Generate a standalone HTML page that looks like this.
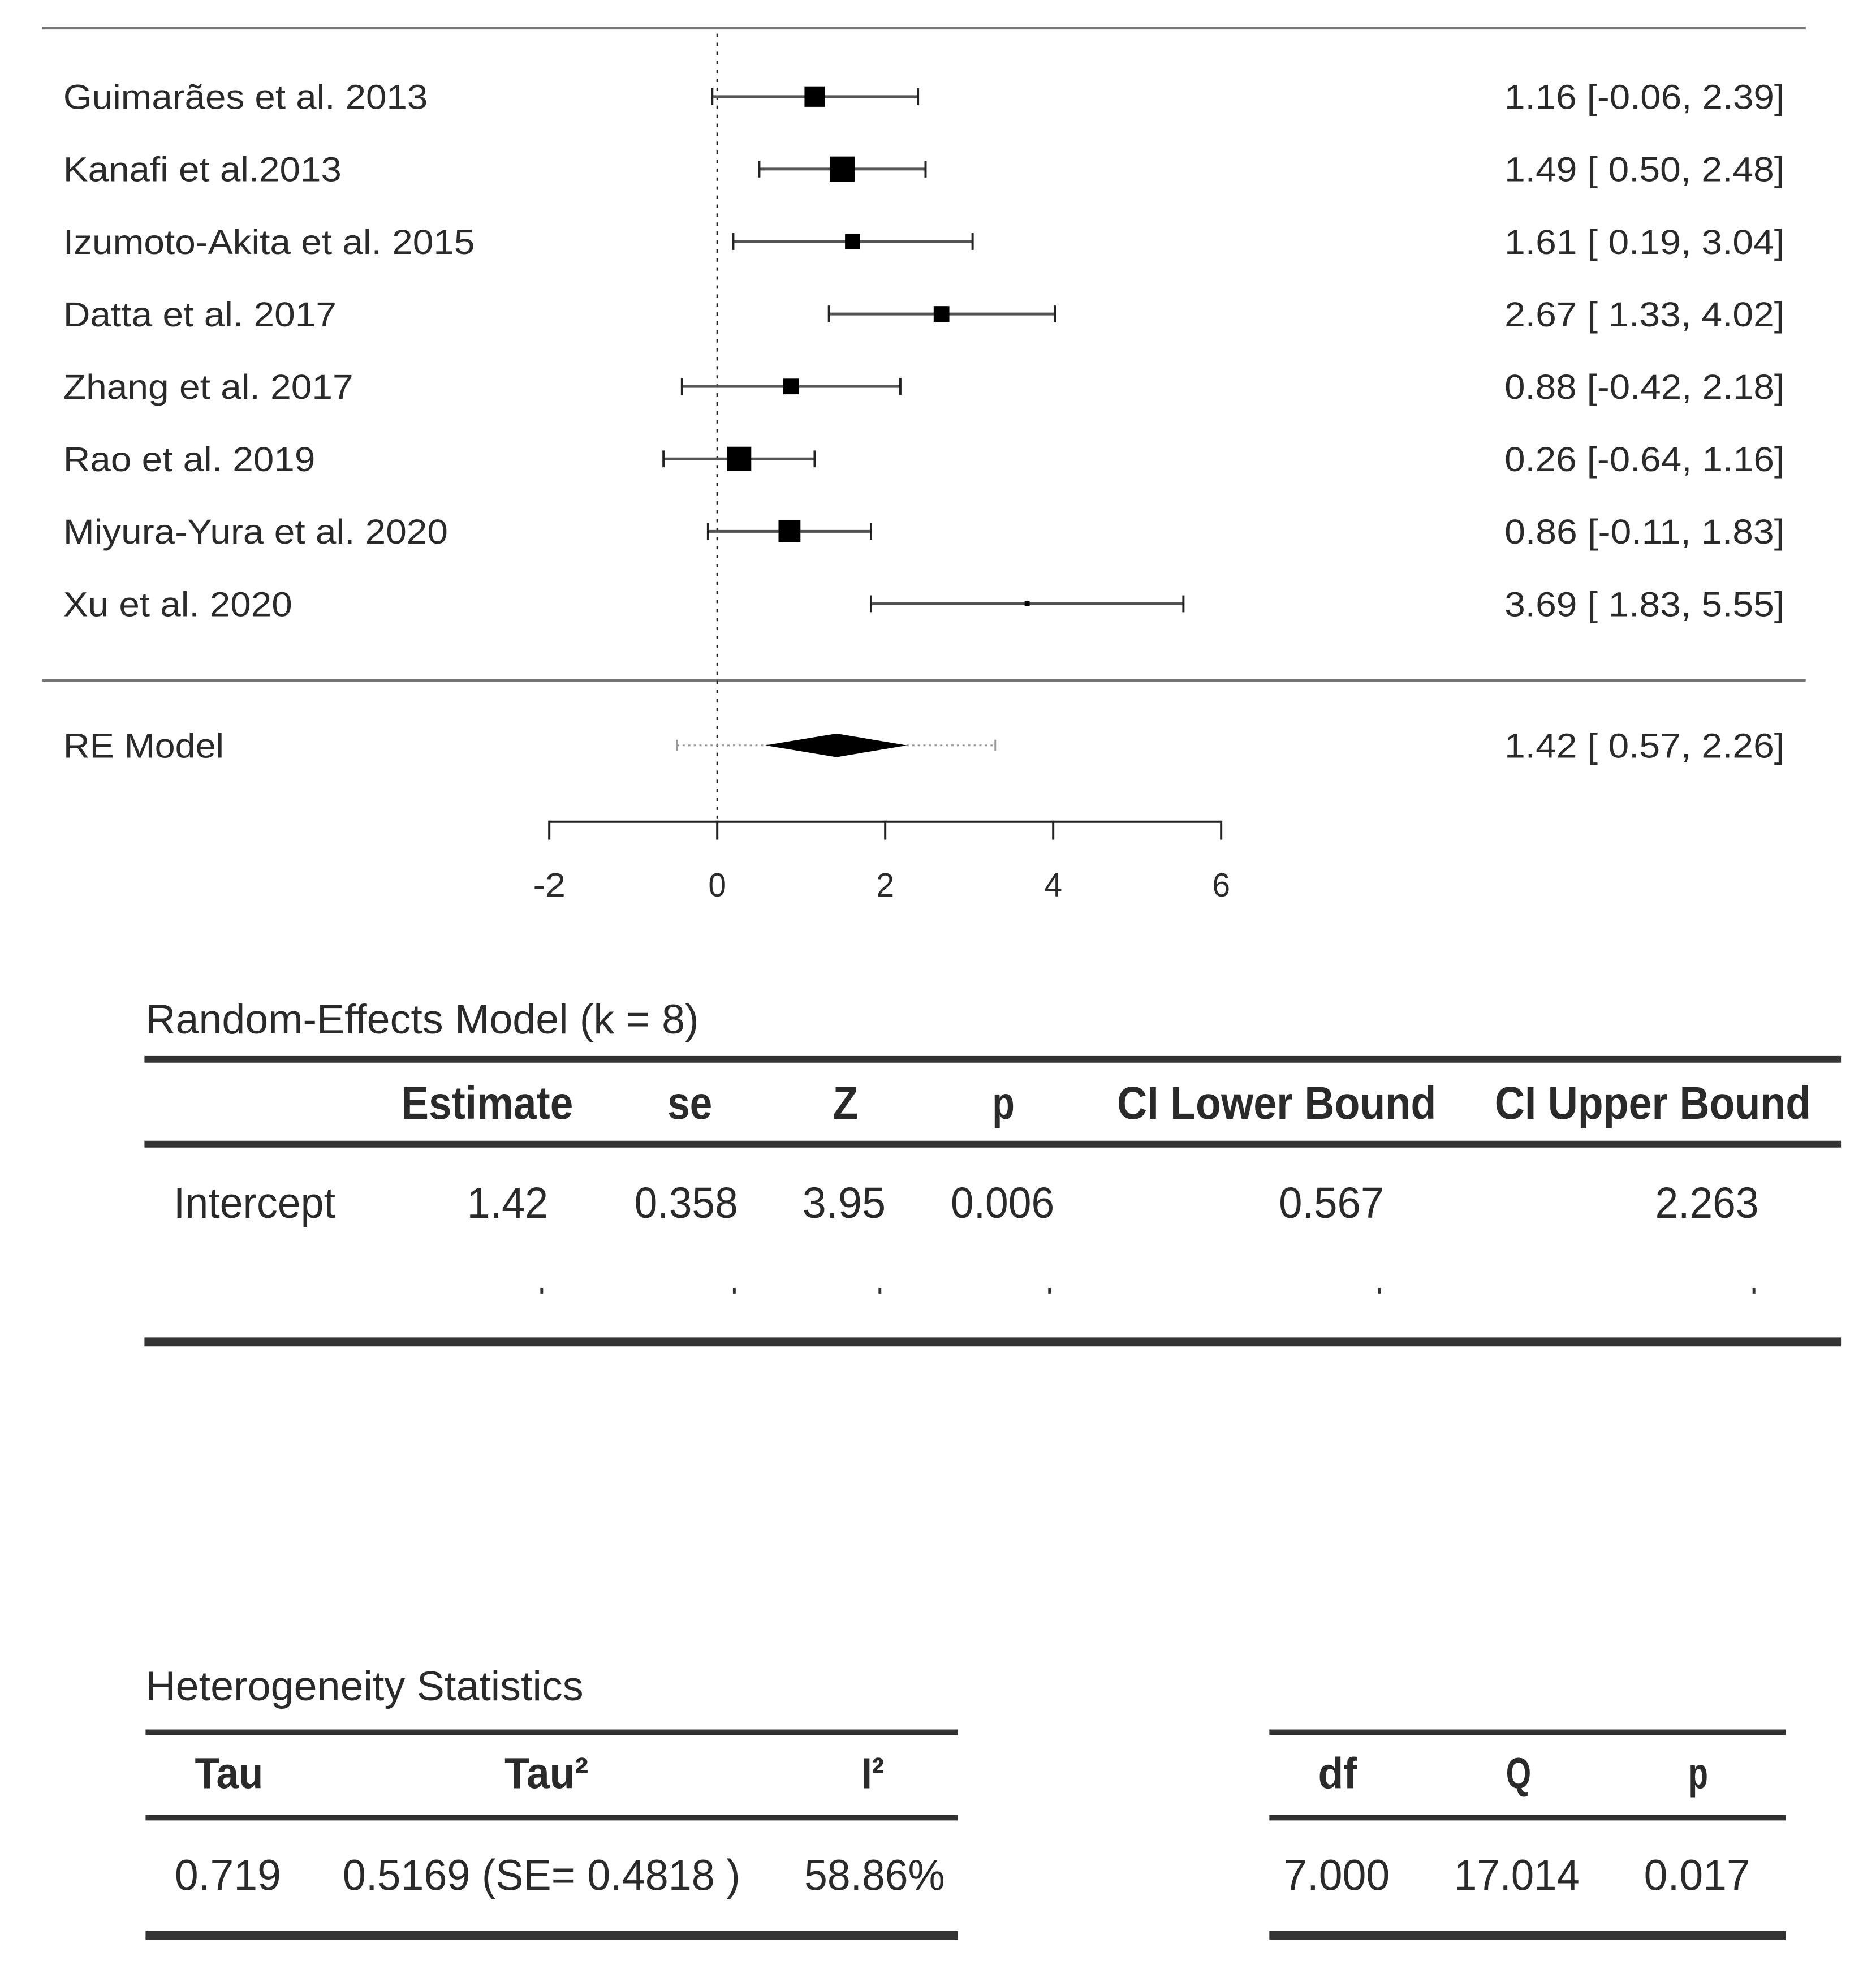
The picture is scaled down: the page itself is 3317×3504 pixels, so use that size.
<!DOCTYPE html>
<html><head><meta charset="utf-8">
<style>
html,body{margin:0;padding:0;background:#fff;}
svg{display:block;}
text{font-family:"Liberation Sans",Arial,sans-serif;fill:#2a2a2a;}
</style></head>
<body>
<svg id="chart" width="3317" height="3504" viewBox="0 0 3317 3504" xmlns="http://www.w3.org/2000/svg">
<rect x="0" y="0" width="3317" height="3504" fill="#fff"/>
<g transform="scale(0.99,0.993)">
<g id="forest"></g>
<g id="tables"></g>
</g>
</svg>
<script>
const studies = ["Guimarães et al. 2013","Kanafi et al.2013","Izumoto-Akita et al. 2015","Datta et al. 2017","Zhang et al. 2017","Rao et al. 2019","Miyura-Yura et al. 2020","Xu et al. 2020"];
const estimates = [1.16,1.49,1.61,2.67,0.88,0.26,0.86,3.69];
const lowers = [-0.06,0.50,0.19,1.33,-0.42,-0.64,-0.11,1.83];
const uppers = [2.39,2.48,3.04,4.02,2.18,1.16,1.83,5.55];
const weights = [13,16,9.5,10,10,15.5,14,3.2];
const ciLabels = ["1.16 [-0.06, 2.39]","1.49 [ 0.50, 2.48]","1.61 [ 0.19, 3.04]","2.67 [ 1.33, 4.02]","0.88 [-0.42, 2.18]","0.26 [-0.64, 1.16]","0.86 [-0.11, 1.83]","3.69 [ 1.83, 5.55]"];
const reEstimate = 1.42, reLower = 0.57, reUpper = 2.26, piLower = -0.48, piUpper = 3.31;
const reLabel = "1.42 [ 0.57, 2.26]";
const xTicks = [-2,0,2,4,6];
const xTickLabels = ["-2","0","2","4","6"];

const NS="http://www.w3.org/2000/svg";
function mk(tag, attrs, parent){const e=document.createElementNS(NS,tag);for(const k in attrs)e.setAttribute(k,attrs[k]);parent.appendChild(e);return e;}
function txt(parent,s,x,y,size,anchor,len,weight){
  const t=mk('text',{x:x,y:y,'font-size':size,'text-anchor':anchor||'start'},parent);
  if(len){t.setAttribute('textLength',len);t.setAttribute('lengthAdjust','spacingAndGlyphs');}
  if(weight)t.setAttribute('font-weight',weight);
  t.textContent=s;return t;}
const xs = v => 1281 + 150*v;
const rowY = i => 172 + 129*i;

const F=document.getElementById('forest');
let l=mk('line',{x1:75,x2:3225,y1:50,y2:50,stroke:'#777','stroke-width':5},F);

l=mk('line',{x1:75,x2:3225,y1:1211,y2:1211,stroke:'#777','stroke-width':5},F);

l=mk('line',{x1:xs(0),x2:xs(0),y1:60,y2:1494,stroke:'#222','stroke-width':3,'stroke-dasharray':'6 10'},F);


const labelW=[651,497,735,488,518,450,687,409];
for(let i=0;i<studies.length;i++){
  const y=rowY(i);
  const g=mk('g',{},F);
  
  
  const lab=txt(g,studies[i],113,y+22,62,'start',labelW[i]);
  
  
  const ci=mk('line',{x1:xs(lowers[i]),x2:xs(uppers[i]),y1:y,y2:y,stroke:'#555','stroke-width':5},g);
  
  
  [lowers[i],uppers[i]].forEach(v=>{mk('line',{x1:xs(v),x2:xs(v),y1:y-15,y2:y+15,stroke:'#222','stroke-width':4},g);});
  const s=2.8*weights[i];
  const b=mk('rect',{x:xs(estimates[i])-s/2,y:y-s/2,width:s,height:s,fill:'#000'},g);
  
  
  const r=txt(g,ciLabels[i],3187,y+22,62,'end',500);
  
  
}
const yRE=1327;
const gr=mk('g',{},F);


txt(gr,'RE Model',113,yRE+22,62,'start',287);
mk('line',{x1:xs(piLower),x2:xs(piUpper),y1:yRE,y2:yRE,stroke:'#999','stroke-width':3,'stroke-dasharray':'4 6'},gr);
[piLower,piUpper].forEach(v=>mk('line',{x1:xs(v),x2:xs(v),y1:yRE-10,y2:yRE+10,stroke:'#999','stroke-width':3},gr));
const dm=mk('polygon',{points:`${xs(reLower)},${yRE} ${xs(reEstimate)},${yRE-21} ${xs(reUpper)},${yRE} ${xs(reEstimate)},${yRE+21}`,fill:'#000'},gr);


txt(gr,reLabel,3187,yRE+22,62,'end',500);
const ax=mk('g',{},F);


mk('line',{x1:xs(xTicks[0]),x2:xs(xTicks[xTicks.length-1]),y1:1463,y2:1463,stroke:'#222','stroke-width':4},ax);
xTicks.forEach((v,i)=>{
  mk('line',{x1:xs(v),x2:xs(v),y1:1461,y2:1495,stroke:'#222','stroke-width':4},ax);
  const t=txt(ax,xTickLabels[i],xs(v),1596,60,'middle',xTickLabels[i].length>1?58:32);
  
  
});

const T=document.getElementById('tables');
function rule(y,x1,x2,w,name){const r=mk('line',{x1:x1,x2:x2,y1:y,y2:y,stroke:'#333','stroke-width':w},T);}
let t=txt(T,'Random-Effects Model (k = 8)',260,1840,74,'start',988);

rule(1886,258,3288,12,'re-table-top-rule');
rule(2037,258,3288,12,'re-table-header-rule');
rule(2389,258,3288,16,'re-table-bottom-rule');
const reHeads=[["Estimate",870,307],["se",1232,80],["Z",1510,45],["p",1792,40],["CI Lower Bound",2280,570],["CI Upper Bound",2952,565]];
reHeads.forEach(h=>{const e=txt(T,h[0],h[1],1992,82,'middle',h[2],'bold');});
txt(T,'Intercept',310,2168,78,'start',289);
const reVals=[["1.42",979,145],["0.358",1318,185],["3.95",1582,149],["0.006",1883,185],["0.567",2472,188],["2.263",3141,185]];
reVals.forEach(v=>{const e=txt(T,v[0],v[1],2168,78,'end',v[2]);});
[967,1311,1571,1874,2463,3132].forEach(x=>mk('rect',{x:x-2,y:2293,width:5,height:10,fill:'#333'},T));

t=txt(T,'Heterogeneity Statistics',260,3027,74,'start',782);

[[260,1711],[2267,3189]].forEach(([a,b],k)=>{
  rule(3084,a,b,10,'het-top-rule');
  rule(3236,a,b,10,'het-header-rule');
  rule(3446,a,b,16,'het-bottom-rule');
});
const hHeads=[["Tau",409,122],["Tau²",976,150],["I²",1559,40],["df",2389,70],["Q",2712,45],["p",3033,35]];
hHeads.forEach(h=>{const e=txt(T,h[0],h[1],3184,78,'middle',h[2],'bold');});
const hVals=[["0.719",407,190],["0.5169 (SE= 0.4818 )",967,710],["58.86%",1562,251],["7.000",2387,190],["17.014",2709,224],["0.017",3031,190]];
hVals.forEach(v=>{const e=txt(T,v[0],v[1],3365,78,'middle',v[2]);});
</script>
</body></html>
